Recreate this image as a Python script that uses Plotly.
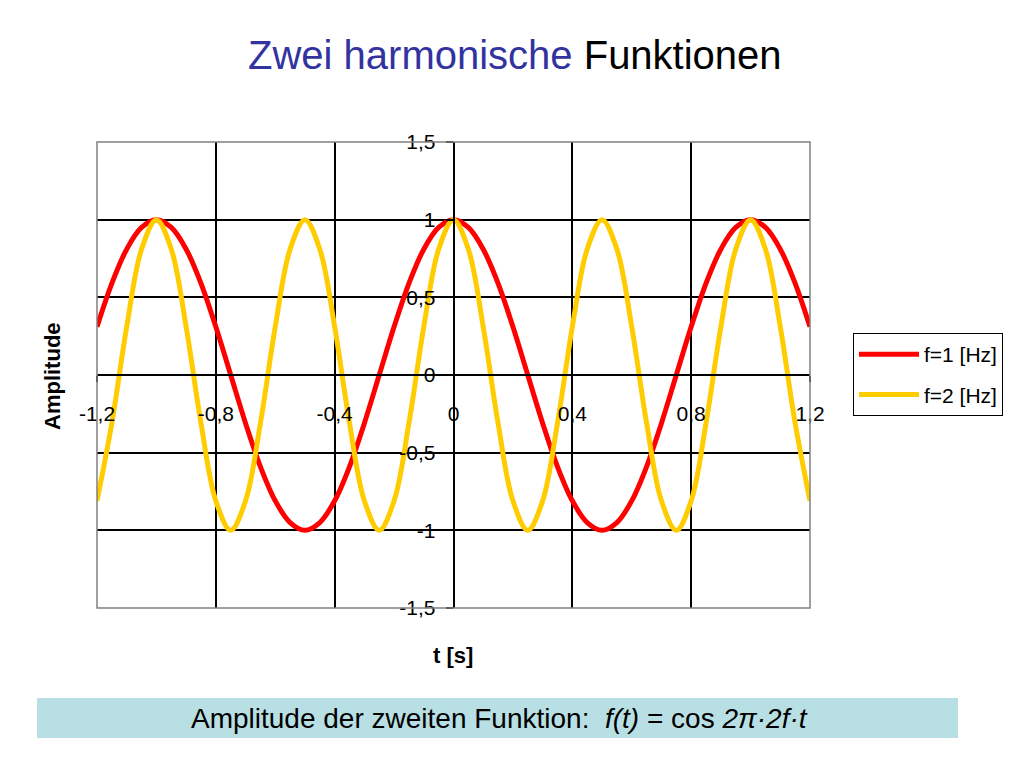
import plotly.graph_objects as go

# Data
t_values = [-1.2, -1.15, -1.1, -1.05, -1.0, -0.95, -0.9, -0.85, -0.8, -0.75,
            -0.7, -0.65, -0.6, -0.55, -0.5, -0.45, -0.4, -0.35, -0.3, -0.25,
            -0.2, -0.15, -0.1, -0.05, 0.0, 0.05, 0.1, 0.15, 0.2, 0.25,
            0.3, 0.35, 0.4, 0.45, 0.5, 0.55, 0.6, 0.65, 0.7, 0.75,
            0.8, 0.85, 0.9, 0.95, 1.0, 1.05, 1.1, 1.15, 1.2]
f1_values = [0.31, 0.59, 0.81, 0.95, 1, 0.95, 0.81, 0.59, 0.31, 0,
             -0.31, -0.59, -0.81, -0.95, -1, -0.95, -0.81, -0.59, -0.31, 0,
             0.31, 0.59, 0.81, 0.95, 1, 0.95, 0.81, 0.59, 0.31, 0,
             -0.31, -0.59, -0.81, -0.95, -1, -0.95, -0.81, -0.59, -0.31, 0,
             0.31, 0.59, 0.81, 0.95, 1, 0.95, 0.81, 0.59, 0.31]
f2_values = [-0.81, -0.31, 0.31, 0.81, 1, 0.81, 0.31, -0.31, -0.81, -1,
             -0.81, -0.31, 0.31, 0.81, 1, 0.81, 0.31, -0.31, -0.81, -1,
             -0.81, -0.31, 0.31, 0.81, 1, 0.81, 0.31, -0.31, -0.81, -1,
             -0.81, -0.31, 0.31, 0.81, 1, 0.81, 0.31, -0.31, -0.81, -1,
             -0.81, -0.31, 0.31, 0.81, 1, 0.81, 0.31, -0.31, -0.81]
series_names = ["f=1 [Hz]", "f=2 [Hz]"]
x_ticks = [-1.2, -0.8, -0.4, 0, 0.4, 0.8, 1.2]
x_tick_labels = ["-1,2", "-0,8", "-0,4", "0", "0,4", "0,8", "1,2"]
y_ticks = [-1.5, -1, -0.5, 0, 0.5, 1, 1.5]
y_tick_labels = ["-1,5", "-1", "-0,5", "0", "0,5", "1", "1,5"]

FONT = "Liberation Sans, Arial, sans-serif"

fig = go.Figure()
fig.add_trace(go.Scatter(x=t_values, y=f1_values, mode="lines", name=series_names[0],
                         line=dict(color="#ff0000", width=5, shape="spline"),
                         legendgroup="a"))
fig.add_trace(go.Scatter(x=t_values, y=f2_values, mode="lines", name=series_names[1],
                         line=dict(color="#ffcc00", width=5, shape="spline"),
                         legendgroup="b"))

OFF = 8  # page body margin
FW, FH = 1024 - OFF, 768 - OFF
L, R, T, B = 97, 810, 142, 608  # plot area in screen pixels
W, H = R - L, B - T


def px(x):
    return (x - L) / W


def py(y):
    return (B - y) / H


fig.update_layout(
    width=FW, height=FH,
    margin=dict(l=L - OFF, r=FW - (R - OFF), t=T - OFF, b=FH - (B - OFF), pad=0),
    paper_bgcolor="white", plot_bgcolor="white",
    font=dict(family=FONT, size=21, color="black"),
    showlegend=True,
    legend=dict(x=px(853), y=py(333), xanchor="left", yanchor="top",
                bordercolor="black", borderwidth=1, bgcolor="white",
                font=dict(size=21), itemwidth=60, tracegroupgap=10),
    xaxis=dict(range=[-1.2, 1.2], tickvals=x_ticks, ticktext=x_tick_labels,
               anchor="free", position=0.5, showline=True, linecolor="black",
               linewidth=1.5, ticks="outside", ticklen=6, tickcolor="black",
               tickwidth=1.5, showgrid=True, gridcolor="black", gridwidth=1.5,
               zeroline=False, ticklabelstandoff=14, fixedrange=True),
    yaxis=dict(range=[-1.5, 1.5], tickvals=y_ticks, ticktext=y_tick_labels,
               anchor="free", position=0.5, showline=True, linecolor="black",
               linewidth=1.5, ticks="outside", ticklen=7, tickcolor="black",
               tickwidth=1.5, showgrid=True, gridcolor="black", gridwidth=1.5,
               zeroline=False, ticklabelstandoff=6, fixedrange=True),
    shapes=[
        dict(type="rect", xref="paper", yref="paper", x0=0, x1=1, y0=0, y1=1,
             line=dict(color="#808080", width=1.5), layer="above"),
        dict(type="rect", xref="paper", yref="paper", x0=px(37), x1=px(958),
             y0=py(738), y1=py(698), fillcolor="#b8dfe3", line=dict(width=0),
             layer="below"),
    ],
    annotations=[
        dict(xref="paper", yref="paper", x=px(515), y=py(55), showarrow=False,
             xanchor="center", yanchor="middle",
             text='<span style="color:#3333a0">Zwei harmonische</span> Funktionen',
             font=dict(size=40, family=FONT, color="black")),
        dict(xref="paper", yref="paper", x=px(500), y=py(718), showarrow=False,
             xanchor="center", yanchor="middle",
             text="Amplitude der zweiten Funktion:  <i>f(t)</i> = cos <i>2π·2f·t</i>",
             font=dict(size=28, family=FONT, color="black")),
        dict(xref="paper", yref="paper", x=px(52), y=py(376), showarrow=False,
             xanchor="center", yanchor="middle",
             text="<b>Amplitude</b>", textangle=-90,
             font=dict(size=22, family=FONT, color="black")),
        dict(xref="paper", yref="paper", x=px(453), y=py(655), showarrow=False,
             xanchor="center", yanchor="middle",
             text="<b>t [s]</b>", font=dict(size=22, family=FONT, color="black")),
    ],
)

fig.write_html("out.html")
